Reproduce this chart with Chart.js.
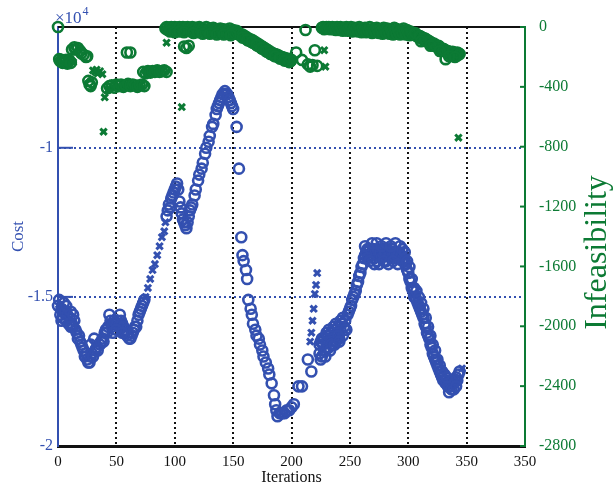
<!DOCTYPE html>
<html>
<head>
<meta charset="utf-8">
<script src="https://cdn.jsdelivr.net/npm/chart.js@4.4.1/dist/chart.umd.min.js"></script>
<style>
  html, body { margin: 0; padding: 0; background: #fff; }
  canvas { display: block; }
</style>
</head>
<body>
<canvas id="chart" width="613" height="486"></canvas>
<script>
// axis ticks
const xTicks = [0, 50, 100, 150, 200, 250, 300, 350, 400];
const xTickLabels = ['0', '50', '100', '150', '200', '250', '300', '350', '350'];
const costTicks = [-2, -1.5, -1];
const costTickLabels = ['-2', '-1.5', '-1'];
const infTicks = [0, -400, -800, -1200, -1600, -2000, -2400, -2800];

// cost (x10^4), circle markers
const costCircleIter = [
  0, 2, 3, 4, 6, 7, 8, 10, 11, 12, 13, 14, 15, 16, 17, 18, 19, 20, 21, 22, 23, 24, 25, 26, 27, 28, 28, 29, 30, 31, 32, 33, 34, 36, 37, 38, 39,
  40, 41, 42, 43, 45, 46, 47, 48, 50, 51, 52, 53, 54, 55, 56, 57, 58, 59, 60, 61, 62, 63, 64, 65, 66, 67, 68, 69, 70, 71, 72, 73, 74,
  93, 94, 95, 96, 97, 98, 99, 100, 101, 102, 103, 104, 105, 106, 107, 108, 109, 110, 111, 112, 113, 114, 115, 117, 118, 120, 121, 123,
  124, 126, 127, 129, 130, 132, 133, 135, 136, 137, 138, 139, 140, 141, 142, 143, 144, 145, 146, 147, 148, 149, 150, 153, 155, 157, 158,
  159, 161, 162, 163, 165, 166, 167, 169, 170, 172, 173, 175, 176, 178, 180, 181, 183, 185, 186, 187, 188, 190, 192, 194, 196, 198, 200,
  202, 206, 209, 214, 217,
  224, 225, 226, 227, 228, 229, 230, 231, 232, 233, 234, 235, 236, 237, 238, 239, 240, 241, 242, 243, 244, 245, 246, 247, 248, 249, 250,
  251, 252, 253, 254, 255, 256, 257, 258, 259, 260, 261, 262, 263, 264, 265, 266, 267, 268, 269, 270, 271, 272, 273, 274, 275, 276, 277,
  278, 279, 280, 281, 282, 283, 284, 285, 286, 287, 288, 289, 290, 291, 292, 293, 294, 295, 296, 297, 298, 299, 300, 301, 302, 303, 304,
  305, 306, 307, 308, 309, 310, 311, 312, 313, 314, 315, 316, 317, 318, 319, 320, 321, 322, 323, 324, 325, 326, 327, 328, 329, 330, 331,
  332, 333, 334, 335, 336, 337, 338, 339, 340, 341, 342, 343, 344
];
const costCircleVal = [
  -1.53, -1.56, -1.54, -1.57, -1.55, -1.58, -1.56, -1.57, -1.55, -1.59, -1.60, -1.58, -1.61, -1.62, -1.64, -1.63, -1.65, -1.66, -1.67, -1.68, -1.70, -1.69, -1.71, -1.72, -1.72, -1.70, -1.66, -1.69, -1.70, -1.64, -1.68, -1.67, -1.68, -1.66, -1.65, -1.64, -1.65,
  -1.62, -1.61, -1.62, -1.60, -1.58, -1.60, -1.59, -1.58, -1.59, -1.58, -1.60, -1.59, -1.58, -1.59, -1.60, -1.62, -1.61, -1.63, -1.62, -1.64, -1.64, -1.63, -1.62, -1.61, -1.60, -1.60, -1.58, -1.56, -1.55, -1.54, -1.53, -1.52, -1.51,
  -1.23, -1.21, -1.19, -1.20, -1.17, -1.16, -1.15, -1.14, -1.13, -1.12, -1.14, -1.18, -1.20, -1.22, -1.24, -1.25, -1.26, -1.27, -1.25, -1.23, -1.21, -1.20, -1.19, -1.16, -1.14, -1.11, -1.09, -1.07,
  -1.05, -1.02, -1.00, -0.98, -0.96, -0.93, -0.92, -0.89, -0.87, -0.86, -0.85, -0.84, -0.83, -0.82, -0.82, -0.81, -0.82, -0.82, -0.83, -0.84, -0.85, -0.86, -0.87, -0.93, -1.07, -1.30, -1.36,
  -1.38, -1.41, -1.44, -1.51, -1.54, -1.56, -1.59, -1.61, -1.63, -1.64, -1.66, -1.68, -1.70, -1.72, -1.74, -1.76, -1.79, -1.83, -1.86, -1.88, -1.90, -1.89, -1.89, -1.89, -1.88, -1.88, -1.87,
  -1.86, -1.80, -1.80, -1.71, -1.75,
  -1.69, -1.65, -1.70, -1.66, -1.64, -1.68, -1.65, -1.63, -1.67, -1.64, -1.62, -1.66, -1.63, -1.61, -1.65, -1.62, -1.60, -1.64, -1.61, -1.59, -1.63, -1.60, -1.58, -1.61, -1.56, -1.55, -1.54,
  -1.53, -1.51, -1.50, -1.49, -1.48, -1.46, -1.45, -1.43, -1.42, -1.40, -1.39, -1.37, -1.36, -1.35, -1.34, -1.36, -1.34, -1.36, -1.35, -1.34, -1.37, -1.35, -1.38, -1.34, -1.36, -1.35, -1.37,
  -1.34, -1.36, -1.35, -1.38, -1.34, -1.36, -1.35, -1.37, -1.34, -1.36, -1.35, -1.37, -1.35, -1.36, -1.35, -1.37, -1.36, -1.38, -1.37, -1.38, -1.39, -1.41, -1.42, -1.44, -1.45, -1.47, -1.48,
  -1.50, -1.50, -1.51, -1.52, -1.53, -1.54, -1.55, -1.56, -1.57, -1.59, -1.60, -1.62, -1.63, -1.64, -1.66, -1.67, -1.69, -1.70, -1.71, -1.72, -1.73, -1.74, -1.75, -1.76, -1.77, -1.78, -1.78,
  -1.79, -1.79, -1.80, -1.79, -1.80, -1.79, -1.78, -1.79, -1.78, -1.77, -1.78, -1.76, -1.75
];

// extra cost circles where the reference marks pile into thick blobs: [iteration, cost]
const costCircleExtra = [
  [1, -1.51], [3, -1.58], [5, -1.52], [7, -1.53], [9, -1.59], [11, -1.60], [13, -1.56],
  [44, -1.56], [47, -1.62], [50, -1.61], [53, -1.56], [55, -1.62],
  [224, -1.66], [226, -1.64], [228, -1.68], [230, -1.62], [232, -1.61], [234, -1.66], [236, -1.60], [238, -1.59],
  [240, -1.63], [242, -1.58], [244, -1.57], [246, -1.61], [225, -1.71], [229, -1.70], [233, -1.68], [237, -1.66], [241, -1.65],
  [263, -1.33], [265, -1.37], [267, -1.38], [269, -1.32], [271, -1.39], [273, -1.32], [275, -1.39], [277, -1.33], [279, -1.38],
  [281, -1.32], [283, -1.39], [285, -1.33], [287, -1.38], [289, -1.32], [291, -1.39], [293, -1.33], [295, -1.34], [297, -1.35], [299, -1.38],
  [301, -1.40], [303, -1.44], [305, -1.47], [307, -1.48], [309, -1.50], [311, -1.52], [313, -1.54], [315, -1.57], [317, -1.60],
  [319, -1.63], [321, -1.66], [323, -1.68], [325, -1.71], [327, -1.73], [329, -1.75], [331, -1.76], [333, -1.77], [335, -1.82],
  [337, -1.81], [339, -1.81], [341, -1.80]
];

// cost (x10^4), cross markers
const costCrossIter = [1, 5, 9, 31, 35, 44, 49, 75, 77, 79, 81, 83, 85, 87, 89, 91, 92, 216, 217, 218, 219, 220, 221, 222, 232, 240, 346];
const costCrossVal = [-1.54, -1.56, -1.55, -1.66, -1.65, -1.59, -1.57, -1.50, -1.47, -1.44, -1.41, -1.39, -1.36, -1.33, -1.30, -1.28, -1.25,
  -1.65, -1.62, -1.58, -1.54, -1.49, -1.46, -1.42, -1.63, -1.61, -1.74];

// infeasibility, circle markers
const infCircleIter = [
  0, 1, 2, 3, 4, 5, 6, 7, 8, 9, 10, 11, 12, 14, 15, 17, 19, 20, 22, 24, 25, 26, 27, 28, 29,
  42, 44, 46, 48, 50, 52, 54, 56, 58, 60, 62, 64, 66, 68, 70, 72, 74, 59, 62,
  73, 75, 77, 79, 81, 83, 85, 87, 89, 91, 93, 108, 110, 112,
  92, 93, 94, 95, 96, 97, 98, 99, 100, 101, 102, 103, 104, 105, 106, 107, 108, 109, 110, 111, 112, 113, 114, 115, 116, 117, 118, 119,
  120, 121, 122, 123, 124, 125, 126, 127, 128, 129, 130, 131, 132, 133, 134, 135, 136, 137, 138, 139, 140, 141, 142, 143, 144, 145,
  146, 147, 148, 149, 150, 151, 152, 153, 154, 155,
  156, 157, 158, 159, 160, 161, 162, 163, 164, 165, 166, 167, 168, 169, 170, 171, 172, 173, 174, 175, 176, 177, 178, 179, 180, 181,
  182, 183, 184, 185, 186, 187, 188, 189, 190, 191, 192, 193, 194, 195, 196, 197, 198, 199, 200,
  204, 209, 212, 214, 216, 218, 220, 222,
  226, 227, 228, 229, 230, 231, 232, 233, 234, 235, 236, 237, 238, 239, 240, 241, 242, 243, 244, 245, 246, 247, 248, 249, 250, 251,
  252, 253, 254, 255, 256, 257, 258, 259, 260, 261, 262, 263, 264, 265, 266, 267, 268, 269, 270, 271, 272, 273, 274, 275, 276, 277,
  278, 279, 280, 281, 282, 283, 284, 285, 286, 287, 288, 289, 290, 291, 292, 293, 294, 295, 296, 297, 298, 299, 300, 301, 302,
  303, 304, 305, 306, 307, 308, 309, 310, 311, 312, 313, 314, 315, 316, 317, 318, 319, 320, 321, 322, 323, 324, 325, 326, 327, 328,
  329, 330, 331, 332, 333, 334, 335, 336, 337, 338, 339, 340, 341, 342, 343, 344
];
const infCircleVal = [
  0, -215, -230, -220, -240, -225, -235, -220, -245, -230, -225, -240, -150, -135, -150, -140, -160, -175, -185, -200, -195, -360, -385, -395, -370,
  -410, -395, -390, -405, -385, -395, -385, -400, -390, -380, -395, -385, -390, -400, -390, -385, -395, -170, -170,
  -300, -310, -295, -305, -295, -300, -290, -300, -295, -290, -300, -130, -140, -125,
  -10, 0, -20, -5, -15, 0, -25, -10, 0, -20, -5, -15, 0, -25, -10, 0, -20, -5, -15, 0, -25, -10, -30, 0, -15, -25, -5, -20,
  -35, 0, -15, -30, -10, -25, -35, 0, -20, -35, -10, -25, -40, -5, -20, -35, -15, -30, -40, -10, -25, -40, -15, -30, -45, -20,
  -35, -10, -30, -45, -20, -35, -45, -25, -40, -50,
  -45, -60, -50, -70, -60, -75, -70, -90, -80, -95, -85, -105, -95, -110, -105, -125, -115, -130, -125, -145, -135, -150, -145, -165, -155, -170,
  -165, -180, -175, -190, -180, -195, -185, -200, -195, -210, -200, -215, -205, -220, -210, -225, -215, -230, -220,
  -170, -220, -20, -250, -265, -255, -155, -260,
  -5, 0, -15, -5, 0, -10, 0, -15, -5, 0, -15, -5, -20, 0, -10, -20, 0, -15, -25, -5, -15, 0, -25, -10, -20, 0,
  -30, -15, -5, -25, -10, -30, 0, -20, -35, -10, -25, -5, -35, -15, -25, 0, -30, -40, -10, -25, -35, -5, -20, -40, -15, -30,
  -45, -5, -25, -40, -10, -30, -45, -15, -35, -50, -5, -25, -45, -15, -35, -50, -20, -40, -10, -30, -50, -20, -40, -55, -30,
  -40, -50, -45, -55, -50, -65, -60, -70, -65, -80, -75, -85, -80, -95, -90, -105, -100, -115, -110, -125, -120, -130, -125, -140, -135, -150,
  -145, -160, -150, -215, -165, -175, -165, -185, -170, -180, -170, -185, -175, -190, -175, -180
];

// extra infeasibility circles for the thick bands: [iteration, infeasibility]
const infCircleExtra = [
  [96, -30], [100, -35], [104, -30], [108, -35], [116, -40], [124, -45], [130, -45], [136, -50], [142, -50], [148, -55],
  [158, -70], [162, -85], [166, -100], [170, -120], [174, -140], [178, -160], [182, -180], [186, -195], [190, -210], [194, -225], [198, -235],
  [306, -40], [310, -60], [314, -75], [318, -95], [322, -110], [326, -125], [330, -145], [334, -160], [338, -165], [342, -170],
  [311, -95], [319, -125], [327, -160], [335, -195], [340, -200]
];

// infeasibility, cross markers
const infCrossIter = [13, 30, 32, 33, 34, 36, 38, 39, 40, 43, 47, 55, 65, 71, 76, 80, 86, 90, 93, 106, 228, 229, 343];
const infCrossVal = [-235, -290, -300, -285, -310, -295, -315, -700, -470, -420, -400, -395, -400, -385, -305, -300, -295, -290, -105, -535, -155, -265, -740];

const BLUE = '#3350b0';
const GREEN = '#0c7a34';
const FONT = 'Liberation Serif';

Chart.defaults.font.family = FONT;

function pts(iters, vals, extra) {
  const out = iters.map((x, i) => ({ x: x, y: vals[i] }));
  (extra || []).forEach(p => out.push({ x: p[0], y: p[1] }));
  return out;
}

function circleSet(data, color, axis) {
  return {
    data: data, yAxisID: axis, clip: false,
    pointStyle: 'circle', pointRadius: 5, borderWidth: 2.6,
    borderColor: color, backgroundColor: 'rgba(255,255,255,0)'
  };
}

function crossSet(data, color, axis) {
  return {
    data: data, yAxisID: axis, clip: false,
    pointStyle: 'crossRot', pointRadius: 4.5, borderWidth: 3,
    borderColor: color, backgroundColor: color
  };
}

// frame line, inner tick marks and extra labels
const decorations = {
  id: 'decorations',
  beforeDatasetsDraw(chart) {
    const { ctx, chartArea: a, scales } = chart;
    ctx.save();
    ctx.strokeStyle = '#111';
    ctx.lineWidth = 2;
    ctx.beginPath();
    ctx.moveTo(a.left, a.top);
    ctx.lineTo(a.right, a.top);
    ctx.stroke();

    ctx.strokeStyle = BLUE;
    ctx.lineWidth = 2;
    costTicks.slice(1).forEach(v => {
      const y = scales.y.getPixelForValue(v);
      ctx.beginPath();
      ctx.moveTo(a.left, y);
      ctx.lineTo(a.left + 15, y);
      ctx.stroke();
    });

    ctx.strokeStyle = GREEN;
    infTicks.forEach(v => {
      const y = scales.y1.getPixelForValue(v);
      ctx.beginPath();
      ctx.moveTo(a.right - 5, y);
      ctx.lineTo(a.right, y);
      ctx.stroke();
    });
    ctx.restore();
  },
  afterDraw(chart) {
    const { ctx, chartArea: a } = chart;
    ctx.save();
    ctx.fillStyle = BLUE;
    ctx.textBaseline = 'alphabetic';
    ctx.font = '17px "' + FONT + '"';
    ctx.fillText('\u00d710', a.left - 3, 23);
    const w = ctx.measureText('\u00d710').width;
    ctx.font = '12px "' + FONT + '"';
    ctx.fillText('4', a.left - 3 + w + 1, 15);

    ctx.fillStyle = GREEN;
    ctx.font = '32px "' + FONT + '"';
    ctx.textAlign = 'center';
    ctx.textBaseline = 'middle';
    ctx.translate(598, (a.top + a.bottom) / 2 + 16);
    ctx.rotate(-Math.PI / 2);
    ctx.fillText('Infeasibility', 0, 0);
    ctx.restore();
  }
};

new Chart(document.getElementById('chart').getContext('2d'), {
  type: 'scatter',
  data: {
    datasets: [
      circleSet(pts(infCircleIter, infCircleVal, infCircleExtra), GREEN, 'y1'),
      crossSet(pts(infCrossIter, infCrossVal), GREEN, 'y1'),
      circleSet(pts(costCircleIter, costCircleVal, costCircleExtra), BLUE, 'y'),
      crossSet(pts(costCrossIter, costCrossVal), BLUE, 'y')
    ]
  },
  options: {
    responsive: false,
    animation: false,
    layout: { padding: { top: 27, left: 0, right: 0, bottom: 0 } },
    plugins: {
      legend: { display: false },
      tooltip: { enabled: false }
    },
    scales: {
      x: {
        type: 'linear',
        min: 0,
        max: 400,
        afterFit: s => { s.height = 40; },
        afterBuildTicks: s => { s.ticks = xTicks.map(v => ({ value: v })); },
        ticks: {
          autoSkip: false, maxRotation: 0, padding: 7, color: '#111',
          font: { size: 15 },
          callback: (v, i) => xTickLabels[i]
        },
        grid: {
          drawTicks: false,
          lineWidth: 2,
          color: c => (c.tick && (c.tick.value === 0 || c.tick.value === 400)) ? 'rgba(0,0,0,0)' : '#111'
        },
        border: { color: '#111', width: 3, dash: [2, 3] },
        title: { display: true, text: 'Iterations', color: '#111', font: { size: 16, lineHeight: 1 }, padding: { top: 0, bottom: 0 } }
      },
      y: {
        type: 'linear',
        position: 'left',
        min: -2,
        max: -0.595,
        afterFit: s => { s.width = 58; },
        afterBuildTicks: s => { s.ticks = costTicks.map(v => ({ value: v })); },
        ticks: {
          padding: 5, color: BLUE, font: { size: 16 },
          callback: (v, i) => costTickLabels[i]
        },
        grid: {
          drawTicks: false,
          lineWidth: 2,
          color: c => (c.tick && c.tick.value === -2) ? 'rgba(0,0,0,0)' : BLUE
        },
        border: { color: BLUE, width: 2, dash: [2, 3] },
        title: { display: true, text: 'Cost', color: BLUE, font: { size: 17 }, padding: { top: 8, bottom: 0 } }
      },
      y1: {
        type: 'linear',
        position: 'right',
        min: -2800,
        max: 0,
        afterFit: s => { s.width = 88; },
        afterBuildTicks: s => { s.ticks = infTicks.map(v => ({ value: v })); },
        ticks: {
          padding: 6, color: GREEN, font: { size: 16 },
          callback: v => String(v)
        },
        grid: { display: false, drawOnChartArea: false },
        border: { color: GREEN, width: 2 }
      }
    }
  },
  plugins: [decorations]
});
</script>
</body>
</html>
